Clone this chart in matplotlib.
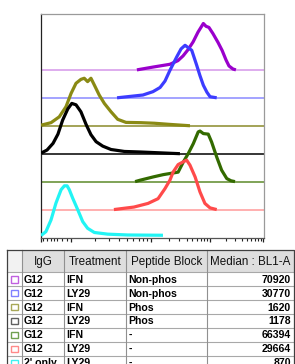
import numpy as np
import matplotlib.pyplot as plt
from matplotlib.patches import Rectangle

plt.rcParams.update({
    'font.family': ['Liberation Sans', 'DejaVu Sans'],
})

# histogram overlay: x in display channels (0-100), y = normalised count,
# each sample is stacked one unit above the one below
purple_x = [43.0, 50.2, 57.8, 61.4, 63.7, 65.9, 68.2, 70.4, 72.8, 74.0, 75.3, 77.1, 79.4, 81.2, 83.0, 84.3, 86.1, 87.4]
purple_y = [0, 0.10, 0.20, 0.33, 0.50, 0.72, 1.00, 1.35, 1.66, 1.56, 1.52, 1.30, 0.98, 0.70, 0.35, 0.14, 0.03, 0]
blue_x = [34.1, 45.7, 50.2, 53.4, 55.6, 57.8, 60.9, 62.8, 64.6, 65.9, 67.6, 69.8, 71.3, 72.8, 74.4, 75.8, 78.8]
blue_y = [0, 0.10, 0.22, 0.37, 0.60, 0.98, 1.47, 1.75, 1.88, 1.80, 1.70, 1.17, 0.79, 0.45, 0.20, 0.04, 0]
olive_x = [0, 4.5, 8.2, 11.2, 13.5, 15.7, 17.9, 19.4, 20.9, 22.4, 23.9, 26.1, 28.4, 31.4, 34.4, 38.1, 44.8, 50.8, 57.5, 66.8]
olive_y = [0.02, 0.11, 0.32, 0.68, 1.16, 1.52, 1.66, 1.70, 1.58, 1.70, 1.46, 1.10, 0.80, 0.50, 0.23, 0.12, 0.11, 0.09, 0.05, 0]
black_x = [0, 2.7, 5.4, 7.6, 9.7, 12.0, 13.8, 15.7, 17.9, 20.2, 22.4, 24.7, 27.7, 31.4, 37.4, 44.8, 56.4, 62.3]
black_y = [0.02, 0.13, 0.37, 0.70, 1.20, 1.60, 1.80, 1.75, 1.50, 1.05, 0.68, 0.43, 0.27, 0.15, 0.08, 0.06, 0.02, 0]
green_x = [42.2, 44.4, 50.4, 54.8, 59.3, 61.5, 63.8, 66.0, 68.3, 70.5, 71.3, 72.8, 75.0, 76.5, 78.8, 81.0, 83.3, 85.2, 87.0]
green_y = [0, 0.05, 0.17, 0.25, 0.31, 0.34, 0.70, 1.00, 1.36, 1.78, 1.81, 1.72, 1.70, 1.42, 0.88, 0.41, 0.11, 0.03, 0]
red_x = [32.7, 41.7, 48.0, 52.5, 55.6, 57.8, 59.3, 61.5, 63.8, 65.3, 66.8, 69.1, 71.3, 73.5, 75.8, 78.8]
red_y = [0, 0.09, 0.22, 0.39, 0.75, 1.05, 1.35, 1.61, 1.71, 1.77, 1.59, 1.17, 0.63, 0.22, 0.06, 0]
cyan_x = [0, 2.2, 4.5, 6.7, 9.0, 10.5, 11.7, 12.7, 14.2, 16.5, 18.7, 20.9, 23.9, 29.9, 38.9, 54.7]
cyan_y = [0.07, 0.21, 0.63, 1.23, 1.71, 1.85, 1.85, 1.71, 1.41, 0.99, 0.57, 0.33, 0.18, 0.12, 0.09, 0.08]

# table
igg = ['G12', 'G12', 'G12', 'G12', 'G12', 'G12', "2' only"]
treatment = ['IFN', 'LY29', 'IFN', 'LY29', 'IFN', 'LY29', 'LY29']
peptide = ['Non-phos', 'Non-phos', 'Phos', 'Phos', '-', '-', '-']
median = [70920, 30770, 1620, 1178, 66394, 29664, 870]
headers = ['', 'IgG', 'Treatment', 'Peptide Block', 'Median : BL1-A']

major_ticks = [0, 13.45, 49.3, 75.8, 99.55]
low_minor = [1.0, 2.8, 4.3, 5.8, 7.3, 9.3, 11.5]

samples = [
    (purple_x, purple_y, '#9a00cc', '#d596ea', '#c060e0'),
    (blue_x, blue_y, '#3c3cff', '#8a8aff', '#8080ff'),
    (olive_x, olive_y, '#8a8a14', '#8a8a2a', '#a8a858'),
    (black_x, black_y, '#000000', '#000000', '#606060'),
    (green_x, green_y, '#336a00', '#5c8a2a', '#70a050'),
    (red_x, red_y, '#ff4a4a', '#ff9a9a', '#ff8a8a'),
    (cyan_x, cyan_y, '#22f4f4', None, '#40f0f0'),
]

W, H = 295, 364
fig = plt.figure(figsize=(W / 100, H / 100), dpi=100)

# table drawn in pixel coordinates on a full-figure axes
tax = fig.add_axes([0, 0, 1, 1])
tax.set_xlim(0, W)
tax.set_ylim(H, 0)
tax.axis('off')

cols = [7.3, 21.7, 64.3, 126, 207.3, 294]
top, head_bot, row_h = 250, 272.3, 13.9
n = len(igg)
bottom = head_bot + row_h * n

tax.add_patch(Rectangle((cols[1], top), cols[-1] - cols[1], head_bot - top,
                        facecolor='#dedede', edgecolor='none'))
tax.add_patch(Rectangle((cols[0], top), cols[1] - cols[0], head_bot - top,
                        facecolor='#f2f2f2', edgecolor='none'))
for i in range(n + 1):
    y = head_bot + row_h * i
    tax.plot([cols[0], cols[-1]], [y, y], color='#a8a8a8', lw=0.8)
for c in cols[1:-1]:
    tax.plot([c, c], [top, bottom], color='#909090', lw=0.8)
tax.plot([cols[0], cols[-1], cols[-1], cols[0], cols[0]],
         [top, top, bottom, bottom, top], color='#404040', lw=0.9)

for j, h in enumerate(headers):
    if h:
        tax.text((cols[j] + cols[j + 1]) / 2, (top + head_bot) / 2 + 0.5, h,
                 ha='center', va='center', fontsize=8.4, color='#111111')

for i in range(n):
    yc = head_bot + row_h * (i + 0.5) + 0.5
    tax.add_patch(Rectangle((11.2, yc - 3.6), 6.4, 6.4, facecolor='white',
                            edgecolor=samples[i][4], lw=1.0))
    tax.text(cols[1] + 2.2, yc, igg[i], ha='left', va='center',
             fontsize=7.6, fontweight='bold')
    tax.text(cols[2] + 2.2, yc, treatment[i], ha='left', va='center',
             fontsize=7.6, fontweight='bold')
    tax.text(cols[3] + 2.2, yc, peptide[i], ha='left', va='center',
             fontsize=7.6, fontweight='bold')
    tax.text(cols[5] - 3, yc, str(median[i]), ha='right', va='center',
             fontsize=7.6, fontweight='bold')

# histogram overlay
ax = fig.add_axes([41 / W, 1 - 237.5 / H, 223 / W, 223.5 / H])
ax.set_xlim(0, 100)
ax.set_ylim(0, 8)
for k, (x, y, c, thin, box) in enumerate(samples):
    level = 6 - k
    if thin is not None:
        ax.plot([0, 100], [level, level], color=thin, lw=1.1, zorder=1)
    ax.plot(x, np.array(y) + level, color=c, lw=2.3, zorder=2 + k,
            solid_joinstyle='round', solid_capstyle='butt')

minor = list(low_minor)
decades = major_ticks[1:]
for a, b in zip(decades[:-1], decades[1:]):
    for m in range(2, 10):
        minor.append(a + np.log10(m) * (b - a))
ax.set_xticks(major_ticks)
ax.set_xticks(minor, minor=True)
ax.set_xticklabels([])
ax.set_yticks([])
ax.tick_params(axis='x', which='major', length=3.2, width=0.9, color='#222222')
ax.tick_params(axis='x', which='minor', length=2.0, width=0.8, color='#222222')
ax.spines['left'].set_color('#222222')
ax.spines['bottom'].set_color('#555555')
ax.spines['top'].set_color('#9a9a9a')
ax.spines['right'].set_color('#9a9a9a')
for s in ax.spines.values():
    s.set_linewidth(0.9)

fig.savefig('out.png', dpi=100)
